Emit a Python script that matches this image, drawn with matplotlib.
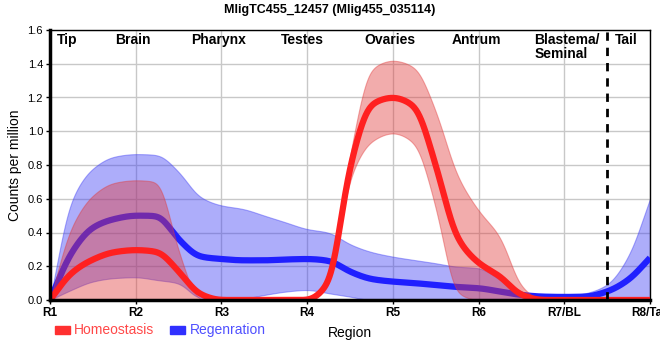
import numpy as np
import matplotlib.pyplot as plt
from matplotlib.patches import Rectangle

plt.rcParams['font.family'] = ['Liberation Sans', 'DejaVu Sans']

regions = ["R1", "R2", "R3", "R4", "R5", "R6", "R7/BL", "R8/Tail"]
pos = np.arange(0, 7.01, 0.25)

homeo = [0.0, 0.16, 0.24, 0.284, 0.296, 0.286, 0.17, 0.035,
         0.0, 0.0, 0.0, 0.0, 0.0, 0.10, 0.79, 1.16,
         1.20, 1.15, 0.80, 0.37, 0.22, 0.14, 0.03, 0.0,
         0.0, 0.0, 0.0, 0.0, 0.0]
homeo_hi = [0.0, 0.43, 0.62, 0.695, 0.71, 0.70, 0.29, 0.0,
            0.0, 0.0, 0.0, 0.0, 0.0, 0.11, 0.86, 1.37,
            1.42, 1.38, 1.12, 0.74, 0.53, 0.375, 0.08, 0.0,
            0.0, 0.0, 0.0, 0.0, 0.0]
homeo_lo = [0.0, 0.0, 0.0, 0.0, 0.0, 0.0, 0.0, 0.0,
            0.0, 0.0, 0.0, 0.0, 0.0, 0.09, 0.72, 0.94,
            0.99, 0.93, 0.55, 0.04, 0.0, 0.0, 0.0, 0.0,
            0.0, 0.0, 0.0, 0.0, 0.0]

regen = [0.0, 0.28, 0.43, 0.48, 0.50, 0.498, 0.36, 0.257,
         0.243, 0.235, 0.235, 0.24, 0.243, 0.233, 0.168, 0.124,
         0.109, 0.10, 0.089, 0.077, 0.07, 0.05, 0.03, 0.02,
         0.018, 0.02, 0.05, 0.12, 0.25]
regen_hi = [0.0, 0.59, 0.78, 0.85, 0.865, 0.86, 0.76, 0.61,
            0.56, 0.54, 0.50, 0.46, 0.42, 0.40, 0.33, 0.284,
            0.257, 0.237, 0.218, 0.197, 0.19, 0.12, 0.05, 0.02,
            0.02, 0.04, 0.09, 0.26, 0.60]
regen_lo = [0.0, 0.06, 0.11, 0.13, 0.135, 0.118, 0.10, 0.01,
            0.01, 0.01, 0.03, 0.05, 0.06, 0.04, 0.02, 0.0,
            0.0, 0.0, 0.0, 0.0, 0.0, 0.0, 0.0, 0.0,
            0.0, 0.0, 0.0, 0.0, 0.0]

region_names = ["Tip", "Brain", "Pharynx", "Testes", "Ovaries", "Antrum", "Blastema/\nSeminal", "Tail"]
region_name_pos = [0.2, 0.97, 1.97, 2.95, 3.97, 4.97, 5.65, 6.72]
region_name_ha = ["center"] * 6 + ["left", "center"]

tail_split = 6.5


def smooth(x, y, xs, sigma=0.055):
    # monotone cubic (Fritsch-Carlson) through the samples, corners softened
    x = np.asarray(x, float)
    y = np.asarray(y, float)
    h = np.diff(x)
    s = np.diff(y) / h
    n = len(y)
    m = np.zeros(n)
    for k in range(1, n - 1):
        if s[k - 1] * s[k] > 0:
            m[k] = 2 / (1 / s[k - 1] + 1 / s[k])
    m[0] = s[0]
    m[-1] = s[-1]
    idx = np.clip(np.searchsorted(x, xs) - 1, 0, n - 2)
    t = (xs - x[idx]) / h[idx]
    h00 = 2 * t**3 - 3 * t**2 + 1
    h10 = t**3 - 2 * t**2 + t
    h01 = -2 * t**3 + 3 * t**2
    h11 = t**3 - t**2
    ys = (h00 * y[idx] + h10 * h[idx] * m[idx]
          + h01 * y[idx + 1] + h11 * h[idx] * m[idx + 1])
    dx = xs[1] - xs[0]
    half = int(3 * sigma / dx)
    k = np.exp(-0.5 * (np.arange(-half, half + 1) * dx / sigma) ** 2)
    k /= k.sum()
    padded = np.concatenate([2 * ys[0] - ys[half:0:-1], ys, 2 * ys[-1] - ys[-2:-half - 2:-1]])
    return np.convolve(padded, k, mode='valid')


xs = np.linspace(0, len(regions) - 1, 1401)

fig = plt.figure(figsize=(6.6, 3.6), dpi=100)
ax = fig.add_axes([50 / 660, 60 / 360, 600 / 660, 270 / 360])

ax.fill_between(xs, smooth(pos, regen_lo, xs), smooth(pos, regen_hi, xs),
                color='#3c3cf5', alpha=0.42, lw=0.8, zorder=2)
ax.plot(xs, smooth(pos, regen, xs), color='#2020ff', lw=4.5, zorder=3,
        solid_capstyle='butt')
ax.fill_between(xs, smooth(pos, homeo_lo, xs), smooth(pos, homeo_hi, xs),
                color='#e23a3a', alpha=0.42, lw=0.8, zorder=4)
ax.plot(xs, smooth(pos, homeo, xs), color='#ff2020', lw=4.5, zorder=5,
        solid_capstyle='butt')

ax.axvline(tail_split, color='black', lw=2, ls=(0, (3, 2.5)), zorder=6)

for name, px, ha in zip(region_names, region_name_pos, region_name_ha):
    ax.text(px, 1.585, name, ha=ha, va='top', fontsize=10,
            fontweight='bold', linespacing=1.0, zorder=7)

ax.set_xlim(0, len(regions) - 1)
ax.set_ylim(0, 1.6)
ax.set_xticks(range(len(regions)))
ax.set_xticklabels(regions, fontsize=8.5, fontweight='bold')
ax.set_yticks(np.arange(0, 1.61, 0.2))
ax.set_yticklabels([f"{v:.1f}" for v in np.arange(0, 1.61, 0.2)], fontsize=8)
ax.tick_params(length=3, width=1, pad=2)
ax.grid(True, color='#c8c8c8', lw=1)
ax.set_axisbelow(True)
for s in ['top', 'right']:
    ax.spines[s].set_linewidth(1)
for s in ['left', 'bottom']:
    ax.spines[s].set_linewidth(2.5)
    ax.spines[s].set_zorder(8)

ax.set_ylabel("Counts per million", fontsize=10, labelpad=4)
ax.set_xlabel("Region", fontsize=10, labelpad=5)

fig.text(330 / 660, 1 - 10 / 360, "MligTC455_12457 (Mlig455_035114)",
         ha='center', va='center', fontsize=9, fontweight='bold')

# legend
fig.patches.append(Rectangle((55 / 660, 1 - 334 / 360), 15 / 660, 8 / 360,
                             transform=fig.transFigure, color='#ff3030'))
fig.text(74 / 660, 1 - 330 / 360, "Homeostasis", color='#ff4848',
         fontsize=10, va='center', ha='left')
fig.patches.append(Rectangle((170 / 660, 1 - 334 / 360), 15 / 660, 8 / 360,
                             transform=fig.transFigure, color='#3030ff'))
fig.text(190 / 660, 1 - 330 / 360, "Regenration", color='#5050ff',
         fontsize=10, va='center', ha='left')

fig.savefig("out.png", dpi=100)
